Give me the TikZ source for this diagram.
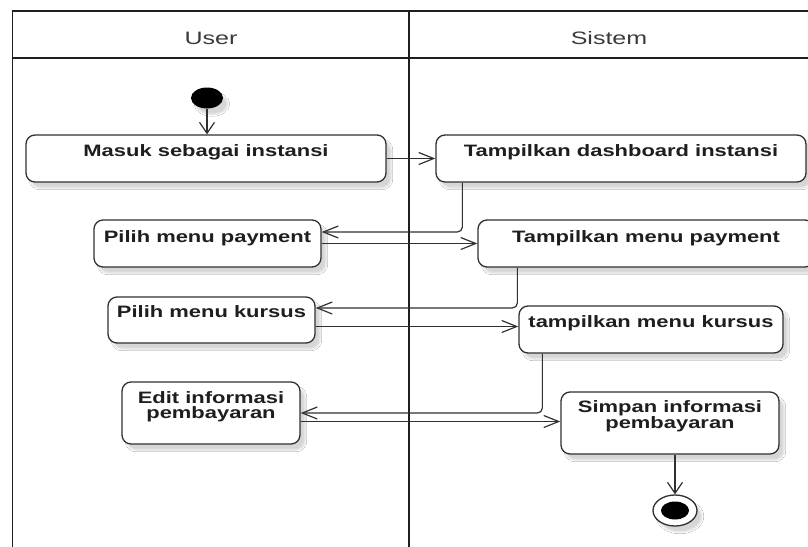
\documentclass[tikz,border=0pt]{standalone}
\usepackage{fontspec}
\usetikzlibrary{arrows.meta,shapes.geometric,shadows.blur}
\newfontfamily\actfont{Liberation Sans}[FakeStretch=1.33]
\newfontfamily\lanefont{Liberation Sans}[FakeStretch=1.39]
\definecolor{ink}{HTML}{1E1E1E}
\definecolor{edge}{HTML}{303030}
\definecolor{headink}{HTML}{3A3A3A}

\begin{document}
\begin{tikzpicture}[x=1pt,y=-1pt,
  frame/.style={draw=ink, line width=1.4pt},
  softshadow/.style={blur shadow={shadow xshift=5pt, shadow yshift=-6pt,
      shadow opacity=16, shadow blur steps=6}},
  act/.style={draw=edge, line width=1.3pt, rounded corners=9pt, fill=white,
      inner sep=0pt, softshadow},
  acttext/.style={font=\actfont\bfseries\fontsize{16.5}{15.5}\selectfont,
      text=ink, align=center, anchor=base, inner sep=0pt},
  lanetext/.style={font=\lanefont\fontsize{18}{20}\selectfont, text=headink,
      anchor=base, inner sep=0pt},
  flow/.style={draw=edge, line width=1.2pt, rounded corners=5pt},
  harr/.style={flow, -{Straight Barb[length=15pt,width=12pt,line width=1.2pt]}},
  varr/.style={flow, -{Straight Barb[length=11pt,width=15pt,line width=1.2pt]}},
  startdot/.style={ellipse, fill=black, inner sep=0pt, minimum width=32pt,
      minimum height=21pt, softshadow},
  enddot/.style={ellipse, draw=edge, line width=1.3pt, fill=white, inner sep=0pt,
      minimum width=44pt, minimum height=31pt, softshadow},
  endcore/.style={ellipse, fill=black, inner sep=0pt, minimum width=28pt,
      minimum height=18pt}
]
\useasboundingbox[fill=white] (0,0) rectangle (808,546);

% swimlane frame
\draw[frame] (12.7,560) -- (12.7,11) -- (820,11);
\draw[frame, line width=2pt] (12.7,58.3) -- (820,58.3);
\draw[frame] (409,11) -- (409,560);
\node[lanetext] (laneuser) at (211,44) {User};
\node[lanetext] (lanesys) at (609,44) {Sistem};

% activities
\node[act, minimum width=360pt, minimum height=47pt] (masuk)    at (206,158.5) {};
\node[act, minimum width=370pt, minimum height=47pt] (dash)     at (621,158.5) {};
\node[act, minimum width=227pt, minimum height=47pt] (pilihpay) at (207.5,243.5) {};
\node[act, minimum width=336pt, minimum height=47pt] (tampay)   at (646,243.5) {};
\node[act, minimum width=207pt, minimum height=46pt] (pilihkur) at (211.5,320) {};
\node[act, minimum width=264pt, minimum height=47pt] (tamkur)   at (651,329.5) {};
\node[act, minimum width=178pt, minimum height=62pt] (edit)     at (211,413) {};
\node[act, minimum width=218pt, minimum height=62pt] (simpan)   at (670,423) {};

% labels (anchored on the baseline of their last line)
\node[acttext] (masuk-t)    at (206,156)   {Masuk sebagai instansi};
\node[acttext] (dash-t)     at (621,156)   {Tampilkan dashboard instansi};
\node[acttext] (pilihpay-t) at (207.5,242) {Pilih menu payment};
\node[acttext] (tampay-t)   at (646,242)   {Tampilkan menu payment};
\node[acttext] (pilihkur-t) at (211.5,317) {Pilih menu kursus};
\node[acttext] (tamkur-t)   at (651,327)   {tampilkan menu kursus};
\node[acttext] (edit-t)     at (211,418.5) {Edit informasi\\pembayaran};
\node[acttext] (simpan-t)   at (670,428)   {Simpan informasi\\pembayaran};

% initial and final states
\node[startdot] (start) at (207,98) {};
\node[enddot] (end) at (675,510.5) {};
\node[endcore] (endc) at (end.center) {};

% control flow
\draw[varr] (start.south) -- (start.south |- masuk.north);
\draw[harr] (masuk.east) -- (dash.west);
\draw[harr] ([xshift=27pt]dash.south west) |- ([yshift=11.5pt]pilihpay.east);
\draw[harr] (pilihpay.east) -- (tampay.west);
\draw[harr] ([xshift=40pt]tampay.south west) |- ([yshift=12pt]pilihkur.east);
\draw[harr] ([yshift=-6.5pt]pilihkur.east) coordinate (k1) -- (k1 -| tamkur.west);
\draw[harr] ([xshift=24pt]tamkur.south west) |- (edit.east);
\draw[harr] ([yshift=-8.5pt]edit.east) coordinate (e1) -- (e1 -| simpan.west);
\draw[varr] (simpan.south -| end.north) -- (end.north);
\end{tikzpicture}
\end{document}
